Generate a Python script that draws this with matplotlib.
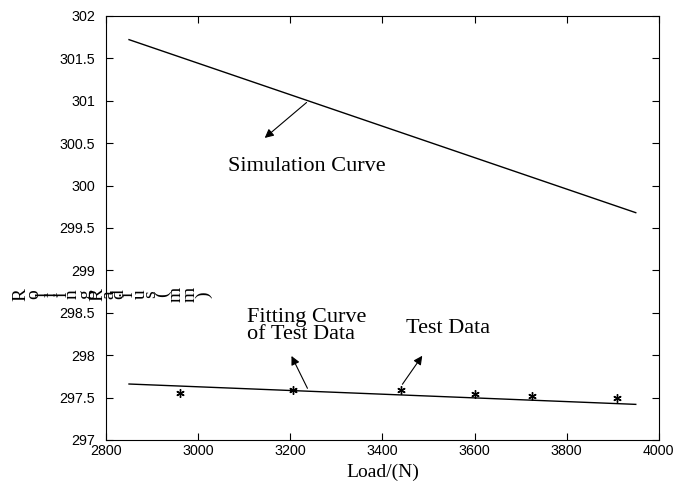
import matplotlib
matplotlib.use("Agg")
import matplotlib.pyplot as plt
from matplotlib.ticker import FixedLocator, FixedFormatter

# simulation curve end points
sim_load = [2850, 3950]
sim_radius = [301.72, 299.68]

# fitting curve of the test data
fit_load = [2850, 3950]
fit_radius = [297.66, 297.42]

# measured points
test_load = [2960, 3205, 3440, 3600, 3725, 3910]
test_radius = [297.55, 297.59, 297.59, 297.54, 297.52, 297.50]

x_ticks = [2800, 3000, 3200, 3400, 3600, 3800, 4000]
y_ticks = [297, 297.5, 298, 298.5, 299, 299.5, 300, 300.5, 301, 301.5, 302]
y_tick_labels = ["297", "297.5", "298", "298.5", "299", "299.5", "300", "300.5", "301", "301.5", "302"]

SANS = "Liberation Sans"
SERIF = "Liberation Serif"

fig = plt.figure(figsize=(6.75, 4.92), dpi=100)
ax = fig.add_axes([0.157, 0.1057, 0.819, 0.862])

ax.plot(sim_load, sim_radius, color="black", lw=1.0)
ax.plot(fit_load, fit_radius, color="black", lw=1.0)
ax.plot(test_load, test_radius, linestyle="none", marker=(6, 2, 0),
        color="black", markersize=6, markeredgewidth=1.0)

ax.set_xlim(2800, 4000)
ax.set_ylim(297, 302)
ax.xaxis.set_major_locator(FixedLocator(x_ticks))
ax.yaxis.set_major_locator(FixedLocator(y_ticks))
ax.yaxis.set_major_formatter(FixedFormatter(y_tick_labels))
ax.tick_params(direction="in", top=True, right=True, length=5, width=0.8,
               labelsize=10.3)
ax.tick_params(axis="y", pad=8)
ax.tick_params(axis="x", pad=3)
for lab in ax.get_xticklabels() + ax.get_yticklabels():
    lab.set_fontfamily(SANS)
for sp in ax.spines.values():
    sp.set_linewidth(0.8)

ax.set_xlabel("Load/(N)", fontfamily=SERIF, fontsize=14, labelpad=4)

# annotations with arrows
arrow = dict(arrowstyle="-|>", color="black", lw=0.8, mutation_scale=13)
ax.annotate("", xy=(3140, 300.54), xytext=(3240, 301.0), arrowprops=arrow)
ax.text(3237, 300.22, "Simulation Curve", fontfamily=SERIF, fontsize=16,
        ha="center", va="center")

ax.annotate("", xy=(3200, 298.02), xytext=(3240, 297.58), arrowprops=arrow)
ax.text(3106, 298.34, "Fitting Curve\nof Test Data", fontfamily=SERIF,
        fontsize=16, ha="left", va="center", linespacing=0.85)

ax.annotate("", xy=(3490, 298.02), xytext=(3440, 297.63), arrowprops=arrow)
ax.text(3542, 298.32, "Test Data", fontfamily=SERIF, fontsize=16,
        ha="center", va="center")

# garbled y label: each glyph rotated on its own, laid out horizontally
label_chars = list("RollingRadius(mm)")
label_px = [21, 34, 44, 53, 62, 72, 86, 98, 109, 119, 128, 140, 151, 162, 176, 190, 204]
for ch, px in zip(label_chars, label_px):
    fig.text(px / 675, 0.402, ch, rotation=90, fontfamily=SERIF, fontsize=14,
             ha="center", va="center")

fig.savefig("out.png", dpi=100)
